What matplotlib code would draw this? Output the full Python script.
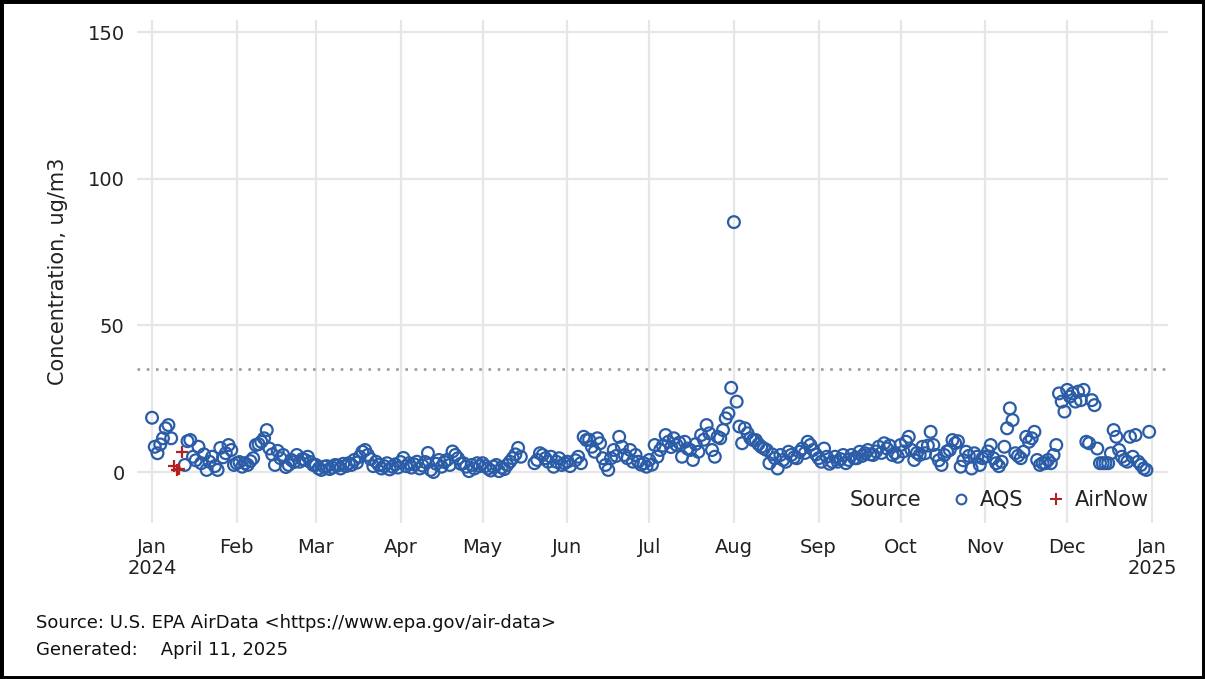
import numpy as np
import pandas as pd
import matplotlib
matplotlib.use("Agg")
import matplotlib.pyplot as plt
from matplotlib.lines import Line2D
from matplotlib.patches import Rectangle

nan = np.nan

# Daily PM2.5 concentrations (ug/m3), AQS source, one value per calendar day
aqs_jan = [18.5, 8.6, 6.4, 9.4, 11.5, 14.9, 16.0, 11.5, nan, nan, nan, nan, 2.4, 10.5, 10.9, 5.2,
           4.0, 8.6, 3.0, 6.0, 0.7, 3.5, 5.2, 2.0, 0.7, 8.2, 5.0, 6.4, 9.2, 7.5, 2.4]
aqs_feb = [3.0, 3.4, 1.8, 3.0, 2.4, 3.7, 4.7, 9.2, 9.5, 10.3, 11.5, 14.3, 8.0, 6.0, 2.4, 7.2,
           4.7, 5.8, 1.7, 2.4, 4.1, 3.4, 5.8, 3.5, 4.4, 4.1, 5.2, 3.4, 2.4]
aqs_mar = [2.4, 1.2, 0.7, 1.8, 2.0, 1.0, 1.5, 2.4, 2.2, 1.2, 2.8, 2.0, 3.0, 2.4, 4.1, 3.2,
           5.2, 6.9, 7.5, 5.8, 4.4, 2.0, 3.5, 2.4, 1.2, 2.0, 3.0, 0.9, 1.8, 2.6, 1.5]
aqs_apr = [3.4, 4.8, 2.0, 3.0, 1.5, 2.6, 3.5, 1.2, 2.2, 3.4, 6.5, 0.7, 0.0, 2.8, 4.1, 1.8,
           3.4, 4.1, 2.4, 7.0, 5.8, 4.7, 2.8, 3.0, 1.8, 0.3, 2.4, 1.2, 3.0, 2.0]
aqs_may = [3.0, 2.0, 1.2, 0.5, 1.8, 2.4, 0.3, 1.5, 1.0, 2.4, 3.5, 4.7, 6.0, 8.2, 5.2, nan,
           nan, nan, nan, 3.0, 4.1, 6.4, 5.8, 4.7, 3.5, 5.2, 1.8, 3.5, 4.7, 2.4, 3.0]
aqs_jun = [3.5, 2.0, nan, 4.0, 5.2, 3.0, 12.0, 10.9, 11.0, 8.6, 6.9, 11.5, 9.8, 4.7, 2.4, 0.7,
           4.7, 7.5, 5.5, 12.0, 8.6, 5.8, 4.7, 7.5, 3.5, 5.8, 3.5, 2.5, 3.0, 1.8]
aqs_jul = [4.1, 2.5, 9.2, 5.2, 7.5, 9.0, 12.6, 10.3, 8.5, 11.5, 9.2, 10.0, 5.2, 10.3, 8.0, 7.5,
           4.1, 9.5, 6.9, 12.6, 11.0, 16.0, 13.2, 7.5, 5.2, 12.0, 11.5, 14.3, 18.3, 20.0, 28.7]
aqs_aug = [85.2, 24.0, 15.5, 9.8, 14.9, 13.2, 11.5, 10.9, 10.9, 9.5, 8.6, 8.0, 7.5, 3.0, 6.0, 4.7,
           1.2, 5.8, 4.1, 3.5, 6.9, 5.8, 5.0, 4.7, 6.9, 8.0, 6.5, 10.3, 9.2, 7.5, 6.0]
aqs_sep = [4.7, 3.5, 8.0, 5.2, 2.8, 3.5, 5.2, 3.5, 4.4, 5.8, 3.0, 4.1, 5.8, 4.7, 4.7, 6.9,
           5.5, 6.4, 7.5, 6.0, 5.8, 7.0, 8.6, 6.5, 9.8, 8.0, 9.0, 5.8, 6.5, 5.2]
aqs_oct = [9.2, 7.0, 10.3, 12.0, 7.5, 4.1, 6.5, 5.8, 8.6, 6.4, 9.0, 13.7, 9.2, 5.8, 4.0, 2.4,
           5.8, 7.0, 7.5, 10.9, 9.8, 10.5, 1.8, 4.0, 6.9, 5.5, 1.2, 6.4, 5.2, 2.4, 4.7]
aqs_nov = [5.2, 7.0, 9.2, 4.7, 3.0, 2.0, 3.5, 8.6, 14.9, 21.7, 17.7, 6.4, 5.5, 4.7, 6.9, 12.0,
           10.3, 11.5, 13.7, 4.1, 2.4, 3.0, 3.0, 4.1, 3.0, 5.8, 9.2, 26.8, 24.0, 20.6]
aqs_dec = [28.0, 25.7, 26.8, 24.0, 27.4, 24.5, 28.0, 10.3, 9.8, 24.5, 22.8, 8.0, 3.0, 3.0, 3.0, 3.0,
           6.4, 14.3, 12.0, 7.5, 5.2, 4.1, 3.5, 12.0, 5.2, 12.6, 3.5, 2.4, 1.2, 0.7, 13.7]

# AirNow readings
airnow_dates = ["2024-01-09", "2024-01-10", "2024-01-11", "2024-01-12"]
airnow_values = [2.0, 0.6, 0.9, 6.8]

naaqs_level = 35
month_labels = ["Jan\n2024", "Feb", "Mar", "Apr", "May", "Jun", "Jul", "Aug",
                "Sep", "Oct", "Nov", "Dec", "Jan\n2025"]
y_ticks = [0, 50, 100, 150]

months = [aqs_jan, aqs_feb, aqs_mar, aqs_apr, aqs_may, aqs_jun,
          aqs_jul, aqs_aug, aqs_sep, aqs_oct, aqs_nov, aqs_dec]
aqs_dates, aqs_values = [], []
for m, vals in enumerate(months, start=1):
    d = pd.date_range(f"2024-{m:02d}-01", periods=len(vals), freq="D")
    aqs_dates.extend(d)
    aqs_values.extend(vals)
aqs_dates = pd.to_datetime(aqs_dates)
aqs_values = np.array(aqs_values, dtype=float)
keep = ~np.isnan(aqs_values)

plt.rcParams["font.family"] = ["DejaVu Sans"]

fig = plt.figure(figsize=(12.05, 6.79), dpi=100)
ax = fig.add_axes([0.1137, 0.2297, 0.8556, 0.7408])

blue = "#2a5ca8"
red = "#b22222"
grid_c = "#e6e6e6"
text_c = "#222222"

tick_dates = pd.date_range("2024-01-01", "2025-01-01", freq="MS")
ax.set_xticks(tick_dates)
ax.set_xticklabels(month_labels, fontsize=14, color=text_c, linespacing=1.1)
ax.set_yticks(y_ticks)
ax.set_yticklabels([str(v) for v in y_ticks], fontsize=14, color=text_c)
ax.tick_params(length=0)
ax.tick_params(axis="x", pad=11)
ax.tick_params(axis="y", pad=9)
ax.grid(True, color=grid_c, linewidth=1.6)
ax.set_axisbelow(True)
for s in ax.spines.values():
    s.set_visible(False)

ax.axhline(naaqs_level, color="#9a9a9a", linewidth=1.9, linestyle=(0, (1, 2.5)), zorder=1)

ax.scatter(aqs_dates[keep], aqs_values[keep], s=72, facecolors="none",
           edgecolors=blue, linewidths=1.6, zorder=3)
ax.scatter(pd.to_datetime(airnow_dates), airnow_values, s=72, marker="+",
           color=red, linewidths=1.6, zorder=4)

x0 = pd.Timestamp("2024-01-01") - pd.Timedelta(days=5.5)
x1 = pd.Timestamp("2025-01-01") + pd.Timedelta(days=5.9)
ax.set_xlim(x0, x1)
ax.set_ylim(-17.4, 154.1)

ax.set_ylabel("Concentration, ug/m3", fontsize=15, color=text_c, labelpad=14)

handles = [Line2D([], [], linestyle="none", marker="o", markerfacecolor="none",
                  markeredgecolor=blue, markeredgewidth=1.5, markersize=7),
           Line2D([], [], linestyle="none", marker="+", color=red,
                  markeredgewidth=1.5, markersize=8)]
leg = ax.legend(handles, ["AQS", "AirNow"], ncol=2, frameon=False, fontsize=15,
                loc="center right", bbox_to_anchor=(1.0, 0.046),
                handlelength=1.0, handletextpad=0.4, columnspacing=1.1)
for t in leg.get_texts():
    t.set_color(text_c)
ax.text(0.6916, 0.046, "Source", transform=ax.transAxes, fontsize=15,
        color=text_c, va="center", ha="left")

fig.text(0.030, 0.083, "Source: U.S. EPA AirData <https://www.epa.gov/air-data>",
         fontsize=13, color="#111111", va="center")
fig.text(0.030, 0.042, "Generated:    April 11, 2025", fontsize=13,
         color="#111111", va="center")

fig.patches.append(Rectangle((0, 0), 1, 1, transform=fig.transFigure, fill=False,
                             edgecolor="black", linewidth=5, zorder=10))

fig.savefig("out.png", dpi=100, facecolor="white")
